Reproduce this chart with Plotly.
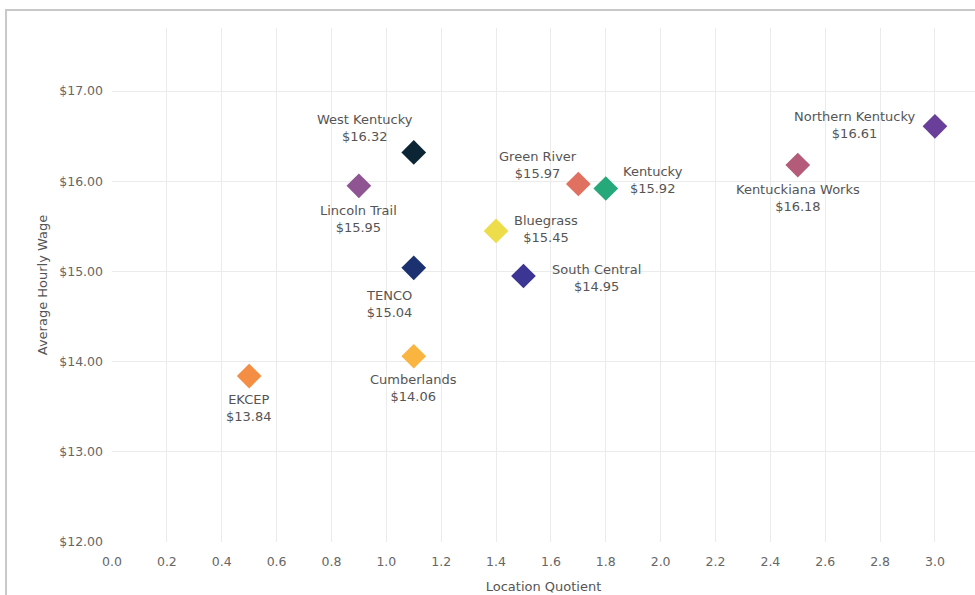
import plotly.graph_objects as go

regions = ["EKCEP", "Lincoln Trail", "West Kentucky", "TENCO", "Cumberlands",
           "Bluegrass", "South Central", "Green River", "Kentucky",
           "Kentuckiana Works", "Northern Kentucky"]
location_quotient = [0.5, 0.9, 1.1, 1.1, 1.1, 1.4, 1.5, 1.7, 1.8, 2.5, 3.0]
avg_hourly_wage = [13.84, 15.95, 16.32, 15.04, 14.06, 15.45, 14.95, 15.97, 15.92, 16.18, 16.61]
colors = ["#F48E45", "#8E5592", "#0B2535", "#1B3170", "#FAB540",
          "#EDDD4A", "#3D3594", "#E0705F", "#26A97A", "#B45B7A", "#6A3F9A"]
# label offsets in pixels (style)
label_dx = [0, 0, -49, -25, 0, 50, 73, -40, 47, 0, -80]
label_dy = [-32, -33, 24, -36, -32, 2, -2, 19, 9, -33, 1]

x_ticks = [round(i * 0.2, 1) for i in range(16)]
y_ticks = [12, 13, 14, 15, 16, 17]

FONT = "DejaVu Sans, Verdana, sans-serif"

fig = go.Figure()
fig.add_trace(go.Scatter(
    x=location_quotient, y=avg_hourly_wage, mode="markers",
    marker=dict(symbol="diamond", size=19, color=colors, line=dict(width=0)),
    text=regions, hoverinfo="text+x+y", showlegend=False,
))

for name, xv, yv, dx, dy in zip(regions, location_quotient, avg_hourly_wage, label_dx, label_dy):
    fig.add_annotation(
        x=xv, y=yv, text=f"{name}<br>${yv:.2f}", showarrow=False,
        xshift=dx, yshift=dy, xanchor="center", yanchor="middle", align="center",
        font=dict(family=FONT, size=13, color="#555555"),
    )

# outer border of the chart container
fig.add_shape(type="rect", xref="paper", yref="paper",
              x0=-0.1228, x1=1.2, y0=-0.3, y1=1.035,
              line=dict(color="#C8C8C8", width=2), fillcolor="rgba(0,0,0,0)", layer="below")

fig.update_layout(
    width=975, height=595,
    margin=dict(l=112, r=0, t=28, b=53),
    paper_bgcolor="white", plot_bgcolor="white",
    font=dict(family=FONT, color="#666666"),
    xaxis=dict(
        range=[0, 3.146], tickvals=x_ticks, ticktext=[f"{v:.1f}" for v in x_ticks],
        showgrid=True, gridcolor="#EBEBEB", gridwidth=1, zeroline=False,
        showline=False, ticks="", ticklabelstandoff=10,
        tickfont=dict(family=FONT, size=12.5, color="#666666"),
        title=dict(text="Location Quotient", font=dict(family=FONT, size=13, color="#555555"), standoff=14),
    ),
    yaxis=dict(
        range=[12, 17.70], tickvals=y_ticks, ticktext=[f"${v:.2f}" for v in y_ticks],
        showgrid=True, gridcolor="#EBEBEB", gridwidth=1, zeroline=False,
        showline=False, ticks="", ticklabelstandoff=8,
        tickfont=dict(family=FONT, size=12.5, color="#666666"),
        title=dict(text="Average Hourly Wage", font=dict(family=FONT, size=13, color="#555555"), standoff=8),
    ),
)

fig.write_html("out.html")
